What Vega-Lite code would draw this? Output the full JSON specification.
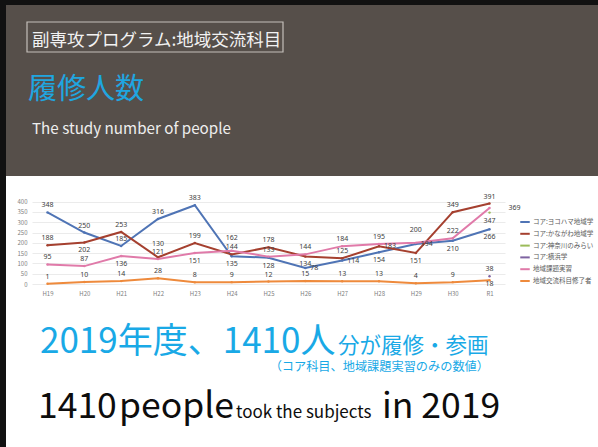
{
  "$schema": "https://vega.github.io/schema/vega-lite/v6.json",
  "padding": 0,
  "background": "#ffffff",
  "bounds": "flush",
  "spacing": 0,
  "config": {
    "view": {"stroke": null},
    "concat": {"spacing": 0},
    "font": "Noto Sans CJK JP"
  },
  "datasets": {
    "series": [
      {"year": "H19", "series": "コア:ヨコハマ地域学", "value": 348},
      {"year": "H20", "series": "コア:ヨコハマ地域学", "value": 250},
      {"year": "H21", "series": "コア:ヨコハマ地域学", "value": 185},
      {"year": "H22", "series": "コア:ヨコハマ地域学", "value": 316},
      {"year": "H23", "series": "コア:ヨコハマ地域学", "value": 383},
      {"year": "H24", "series": "コア:ヨコハマ地域学", "value": 135},
      {"year": "H25", "series": "コア:ヨコハマ地域学", "value": 128},
      {"year": "H26", "series": "コア:ヨコハマ地域学", "value": 78},
      {"year": "H27", "series": "コア:ヨコハマ地域学", "value": 114},
      {"year": "H28", "series": "コア:ヨコハマ地域学", "value": 154},
      {"year": "H29", "series": "コア:ヨコハマ地域学", "value": 194},
      {"year": "H30", "series": "コア:ヨコハマ地域学", "value": 210},
      {"year": "R1", "series": "コア:ヨコハマ地域学", "value": 266},
      {"year": "H19", "series": "コア:かながわ地域学", "value": 188},
      {"year": "H20", "series": "コア:かながわ地域学", "value": 202},
      {"year": "H21", "series": "コア:かながわ地域学", "value": 253},
      {"year": "H22", "series": "コア:かながわ地域学", "value": 130},
      {"year": "H23", "series": "コア:かながわ地域学", "value": 199},
      {"year": "H24", "series": "コア:かながわ地域学", "value": 144},
      {"year": "H25", "series": "コア:かながわ地域学", "value": 178},
      {"year": "H26", "series": "コア:かながわ地域学", "value": 134},
      {"year": "H27", "series": "コア:かながわ地域学", "value": 125},
      {"year": "H28", "series": "コア:かながわ地域学", "value": 183},
      {"year": "H29", "series": "コア:かながわ地域学", "value": 151},
      {"year": "H30", "series": "コア:かながわ地域学", "value": 349},
      {"year": "R1", "series": "コア:かながわ地域学", "value": 391},
      {"year": "R1", "series": "コア:神奈川のみらい", "value": 347},
      {"year": "R1", "series": "コア:横浜学", "value": 38},
      {"year": "H19", "series": "地域課題実習", "value": 95},
      {"year": "H20", "series": "地域課題実習", "value": 87},
      {"year": "H21", "series": "地域課題実習", "value": 136},
      {"year": "H22", "series": "地域課題実習", "value": 121},
      {"year": "H23", "series": "地域課題実習", "value": 151},
      {"year": "H24", "series": "地域課題実習", "value": 162},
      {"year": "H25", "series": "地域課題実習", "value": 133},
      {"year": "H26", "series": "地域課題実習", "value": 144},
      {"year": "H27", "series": "地域課題実習", "value": 184},
      {"year": "H28", "series": "地域課題実習", "value": 195},
      {"year": "H29", "series": "地域課題実習", "value": 200},
      {"year": "H30", "series": "地域課題実習", "value": 222},
      {"year": "R1", "series": "地域課題実習", "value": 369},
      {"year": "H19", "series": "地域交流科目修了者", "value": 1},
      {"year": "H20", "series": "地域交流科目修了者", "value": 10},
      {"year": "H21", "series": "地域交流科目修了者", "value": 14},
      {"year": "H22", "series": "地域交流科目修了者", "value": 28},
      {"year": "H23", "series": "地域交流科目修了者", "value": 8},
      {"year": "H24", "series": "地域交流科目修了者", "value": 9},
      {"year": "H25", "series": "地域交流科目修了者", "value": 12},
      {"year": "H26", "series": "地域交流科目修了者", "value": 15},
      {"year": "H27", "series": "地域交流科目修了者", "value": 13},
      {"year": "H28", "series": "地域交流科目修了者", "value": 13},
      {"year": "H29", "series": "地域交流科目修了者", "value": 4},
      {"year": "H30", "series": "地域交流科目修了者", "value": 9},
      {"year": "R1", "series": "地域交流科目修了者", "value": 18}
    ]
  },
  "hconcat": [
    {
      "width": 6,
      "height": 447,
      "view": {"fill": "#111111", "stroke": null},
      "data": {"values": []},
      "mark": "point"
    },
    {
      "bounds": "flush",
      "spacing": 0,
      "vconcat": [
        {
          "width": 592,
          "height": 5,
          "view": {"fill": "#111111", "stroke": null},
          "data": {"values": []},
          "mark": "point"
        },
        {
          "width": 592,
          "height": 171,
          "view": {"fill": "#564f4a", "stroke": null},
          "layer": [
            {
              "data": {"values": [{"box": "tag"}]},
              "mark": {"type": "rect", "filled": false, "stroke": "#c4bfba", "strokeWidth": 1.2},
              "encoding": {
                "x": {"value": 21},
                "x2": {"value": 277},
                "y": {"value": 17},
                "y2": {"value": 47}
              }
            },
            {
              "data": {"values": [{"t": "副専攻プログラム:地域交流科目"}]},
              "mark": {"type": "text", "align": "left", "baseline": "alphabetic", "fontSize": 17.5, "fill": "#f2f2f2"},
              "encoding": {"text": {"field": "t"}, "x": {"value": 26}, "y": {"value": 41}}
            },
            {
              "data": {"values": [{"t": "履修人数"}]},
              "mark": {"type": "text", "align": "left", "baseline": "alphabetic", "fontSize": 29, "fill": "#1fa6e0"},
              "encoding": {"text": {"field": "t"}, "x": {"value": 22}, "y": {"value": 94}}
            },
            {
              "data": {"values": [{"t": "The study number of people"}]},
              "mark": {"type": "text", "align": "left", "baseline": "alphabetic", "fontSize": 15.2, "fill": "#eeeeee"},
              "encoding": {"text": {"field": "t"}, "x": {"value": 26}, "y": {"value": 129}}
            }
          ]
        },
        {
          "width": 592,
          "height": 108,
          "data": {"name": "series"},
          "encoding": {
            "x": {
              "field": "year",
              "type": "ordinal",
              "sort": ["H19", "H20", "H21", "H22", "H23", "H24", "H25", "H26", "H27", "H28", "H29", "H30", "R1"],
              "scale": {"type": "point", "padding": 0.42, "range": [26, 499]},
              "axis": {"title": null, "labelFontSize": 6, "labelColor": "#7f7f7f", "ticks": false, "domain": false, "labelPadding": 6, "labelAngle": 0, "grid": false}
            },
            "y": {
              "field": "value",
              "type": "quantitative",
              "scale": {"domain": [0, 400], "range": [108, 25.7], "nice": false},
              "axis": {"title": null, "offset": -26, "values": [0, 50, 100, 150, 200, 250, 300, 350, 400], "labelFontSize": 6, "labelColor": "#7f7f7f", "ticks": false, "domain": false, "labelPadding": 5, "gridColor": "#e2e2e2", "gridWidth": 0.7}
            },
            "color": {
              "field": "series",
              "type": "nominal",
              "scale": {
                "domain": ["コア:ヨコハマ地域学", "コア:かながわ地域学", "コア:神奈川のみらい", "コア:横浜学", "地域課題実習", "地域交流科目修了者"],
                "range": ["#4f74b5", "#a5402f", "#9bbb59", "#7e63a1", "#e07aa9", "#ee8a3c"]
              },
              "legend": {
                "title": null,
                "orient": "none",
                "legendX": 519,
                "legendY": 216,
                "padding": 0,
                "symbolType": "stroke",
                "symbolStrokeWidth": 2,
                "symbolSize": 90,
                "labelFontSize": 6.5,
                "labelColor": "#595959",
                "rowPadding": 1.8,
                "labelOffset": 2
              }
            }
          },
          "layer": [
            {"mark": {"type": "line", "strokeWidth": 2, "point": {"size": 6, "filled": true}}},
            {
              "transform": [{"filter": "!((datum.series==='コア:ヨコハマ地域学' && indexof(['H24','H25','H26','H27','H28','H29','H30','R1'], datum.year) >= 0) || (datum.series==='コア:かながわ地域学' && indexof(['H20','H22','H26','H28','H29'], datum.year) >= 0) || (datum.series==='地域課題実習' && indexof(['H21','H23','H24','H29','R1'], datum.year) >= 0) || (datum.series==='地域交流科目修了者' && datum.year==='R1') || datum.series==='コア:神奈川のみらい')"}],
              "mark": {"type": "text", "dy": -7, "fontSize": 7, "font": "Noto Sans"},
              "encoding": {"text": {"field": "value", "type": "quantitative"}, "color": {"value": "#404040"}}
            },
            {
              "transform": [{"filter": "(datum.series==='コア:かながわ地域学' && datum.year==='H22') || (datum.series==='地域課題実習' && indexof(['H24','H29'], datum.year) >= 0)"}],
              "mark": {"type": "text", "dy": -13, "fontSize": 7, "font": "Noto Sans"},
              "encoding": {"text": {"field": "value", "type": "quantitative"}, "color": {"value": "#404040"}}
            },
            {
              "transform": [{"filter": "(datum.series==='コア:ヨコハマ地域学' && indexof(['H24','H25','H28','H30','R1'], datum.year) >= 0) || (datum.series==='コア:かながわ地域学' && indexof(['H20','H26','H29'], datum.year) >= 0) || (datum.series==='地域課題実習' && indexof(['H21','H23'], datum.year) >= 0) || datum.series==='コア:神奈川のみらい'"}],
              "mark": {"type": "text", "dy": 8, "fontSize": 7, "font": "Noto Sans"},
              "encoding": {"text": {"field": "value", "type": "quantitative"}, "color": {"value": "#404040"}}
            },
            {
              "transform": [{"filter": "datum.series==='地域交流科目修了者' && datum.year==='R1'"}],
              "mark": {"type": "text", "dy": 4, "fontSize": 7, "font": "Noto Sans"},
              "encoding": {"text": {"field": "value", "type": "quantitative"}, "color": {"value": "#404040"}}
            },
            {
              "transform": [{"filter": "(datum.series==='コア:ヨコハマ地域学' && indexof(['H26','H27','H29'], datum.year) >= 0) || (datum.series==='コア:かながわ地域学' && datum.year==='H28')"}],
              "mark": {"type": "text", "dx": 5, "dy": 0, "fontSize": 7, "font": "Noto Sans", "align": "left"},
              "encoding": {"text": {"field": "value", "type": "quantitative"}, "color": {"value": "#404040"}}
            },
            {
              "transform": [{"filter": "datum.series==='地域課題実習' && datum.year==='R1'"}],
              "mark": {"type": "text", "dx": 19, "dy": 0, "fontSize": 7, "font": "Noto Sans", "align": "left"},
              "encoding": {"text": {"field": "value", "type": "quantitative"}, "color": {"value": "#404040"}}
            }
          ]
        },
        {
          "width": 592,
          "height": 163,
          "layer": [
            {
              "data": {"values": [{"t": "2019年度、1410人"}]},
              "mark": {"type": "text", "align": "left", "baseline": "alphabetic", "fontSize": 35, "fill": "#19a9e6"},
              "encoding": {"text": {"field": "t"}, "x": {"value": 34}, "y": {"value": 69}}
            },
            {
              "data": {"values": [{"t": "分が履修・参画"}]},
              "mark": {"type": "text", "align": "left", "baseline": "alphabetic", "fontSize": 21.5, "fill": "#19a9e6"},
              "encoding": {"text": {"field": "t"}, "x": {"value": 332}, "y": {"value": 69}}
            },
            {
              "data": {"values": [{"t": "（コア科目、地域課題実習のみの数値）"}]},
              "mark": {"type": "text", "align": "right", "baseline": "alphabetic", "fontSize": 12.2, "fill": "#19a9e6"},
              "encoding": {"text": {"field": "t"}, "x": {"value": 483}, "y": {"value": 87}}
            },
            {
              "data": {"values": [{"t": "1410"}]},
              "mark": {"type": "text", "align": "left", "baseline": "alphabetic", "fontSize": 35.5, "fill": "#0d0d0d"},
              "encoding": {"text": {"field": "t"}, "x": {"value": 32}, "y": {"value": 134}}
            },
            {
              "data": {"values": [{"t": "people"}]},
              "mark": {"type": "text", "align": "left", "baseline": "alphabetic", "fontSize": 35.5, "fill": "#0d0d0d"},
              "encoding": {"text": {"field": "t"}, "x": {"value": 113}, "y": {"value": 134}}
            },
            {
              "data": {"values": [{"t": "took the subjects"}]},
              "mark": {"type": "text", "align": "left", "baseline": "alphabetic", "fontSize": 17, "fill": "#0d0d0d"},
              "encoding": {"text": {"field": "t"}, "x": {"value": 230}, "y": {"value": 134}}
            },
            {
              "data": {"values": [{"t": "in 2019"}]},
              "mark": {"type": "text", "align": "left", "baseline": "alphabetic", "fontSize": 35.5, "fill": "#0d0d0d"},
              "encoding": {"text": {"field": "t"}, "x": {"value": 376}, "y": {"value": 134}}
            }
          ]
        }
      ]
    }
  ]
}
